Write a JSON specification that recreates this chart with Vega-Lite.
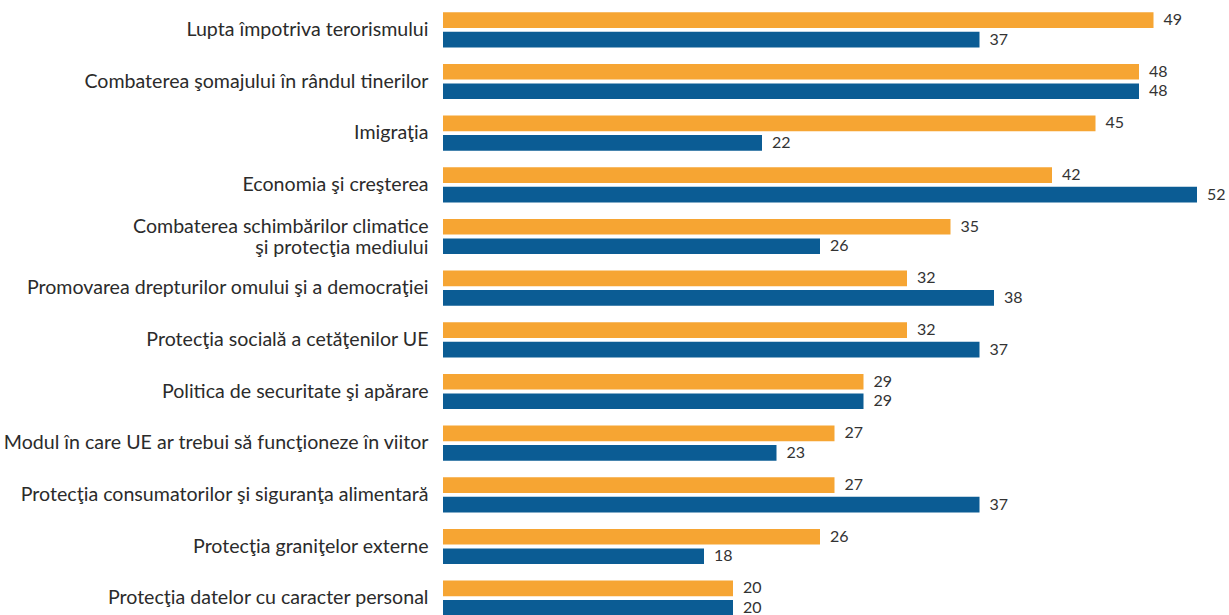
{
  "$schema": "https://vega.github.io/schema/vega-lite/v6.json",
  "autosize": "none",
  "width": 797.5,
  "height": 620,
  "padding": {"left": 443, "top": 4, "right": 0, "bottom": 0},
  "background": "white",
  "config": {"view": {"stroke": null}},
  "data": {
    "values": [
      {"tema": "Lupta împotriva terorismului", "serie": "A", "valoare": 49},
      {"tema": "Lupta împotriva terorismului", "serie": "B", "valoare": 37},
      {"tema": "Combaterea şomajului în rândul tinerilor", "serie": "A", "valoare": 48},
      {"tema": "Combaterea şomajului în rândul tinerilor", "serie": "B", "valoare": 48},
      {"tema": "Imigraţia", "serie": "A", "valoare": 45},
      {"tema": "Imigraţia", "serie": "B", "valoare": 22},
      {"tema": "Economia şi creşterea", "serie": "A", "valoare": 42},
      {"tema": "Economia şi creşterea", "serie": "B", "valoare": 52},
      {"tema": "Combaterea schimbărilor climatice|şi protecţia mediului", "serie": "A", "valoare": 35},
      {"tema": "Combaterea schimbărilor climatice|şi protecţia mediului", "serie": "B", "valoare": 26},
      {"tema": "Promovarea drepturilor omului şi a democraţiei", "serie": "A", "valoare": 32},
      {"tema": "Promovarea drepturilor omului şi a democraţiei", "serie": "B", "valoare": 38},
      {"tema": "Protecţia socială a cetăţenilor UE", "serie": "A", "valoare": 32},
      {"tema": "Protecţia socială a cetăţenilor UE", "serie": "B", "valoare": 37},
      {"tema": "Politica de securitate şi apărare", "serie": "A", "valoare": 29},
      {"tema": "Politica de securitate şi apărare", "serie": "B", "valoare": 29},
      {"tema": "Modul în care UE ar trebui să funcţioneze în viitor", "serie": "A", "valoare": 27},
      {"tema": "Modul în care UE ar trebui să funcţioneze în viitor", "serie": "B", "valoare": 23},
      {"tema": "Protecţia consumatorilor şi siguranţa alimentară", "serie": "A", "valoare": 27},
      {"tema": "Protecţia consumatorilor şi siguranţa alimentară", "serie": "B", "valoare": 37},
      {"tema": "Protecţia graniţelor externe", "serie": "A", "valoare": 26},
      {"tema": "Protecţia graniţelor externe", "serie": "B", "valoare": 18},
      {"tema": "Protecţia datelor cu caracter personal", "serie": "A", "valoare": 20},
      {"tema": "Protecţia datelor cu caracter personal", "serie": "B", "valoare": 20}
    ]
  },
  "encoding": {
    "y": {
      "field": "tema",
      "type": "nominal",
      "sort": null,
      "scale": {"paddingInner": 0.32, "paddingOuter": 0.16},
      "axis": {
        "title": null,
        "ticks": false,
        "domain": false,
        "labelPadding": 15,
        "labelFont": "Lato",
        "labelFontSize": 19.6,
        "labelColor": "#2b2b2b",
        "labelLimit": 0,
        "labelLineHeight": 21,
        "labelOffset": {"condition": {"test": "indexof(datum.value, '|') >= 0", "value": -10}, "value": 0},
        "labelExpr": "split(datum.label, '|')"
      }
    },
    "yOffset": {
      "field": "serie",
      "type": "nominal",
      "sort": ["A", "B"],
      "scale": {"paddingInner": 0.2}
    },
    "x": {
      "field": "valoare",
      "type": "quantitative",
      "scale": {"domain": [0, 55], "nice": false},
      "axis": null
    }
  },
  "layer": [
    {
      "mark": {"type": "bar"},
      "encoding": {
        "color": {
          "field": "serie",
          "type": "nominal",
          "scale": {"domain": ["A", "B"], "range": ["#F6A533", "#0B5C94"]},
          "legend": null
        }
      }
    },
    {
      "mark": {"type": "text", "align": "left", "baseline": "middle", "dx": 10, "font": "Lato", "fontSize": 16, "color": "#333333"},
      "encoding": {"text": {"field": "valoare", "type": "quantitative"}}
    }
  ]
}
